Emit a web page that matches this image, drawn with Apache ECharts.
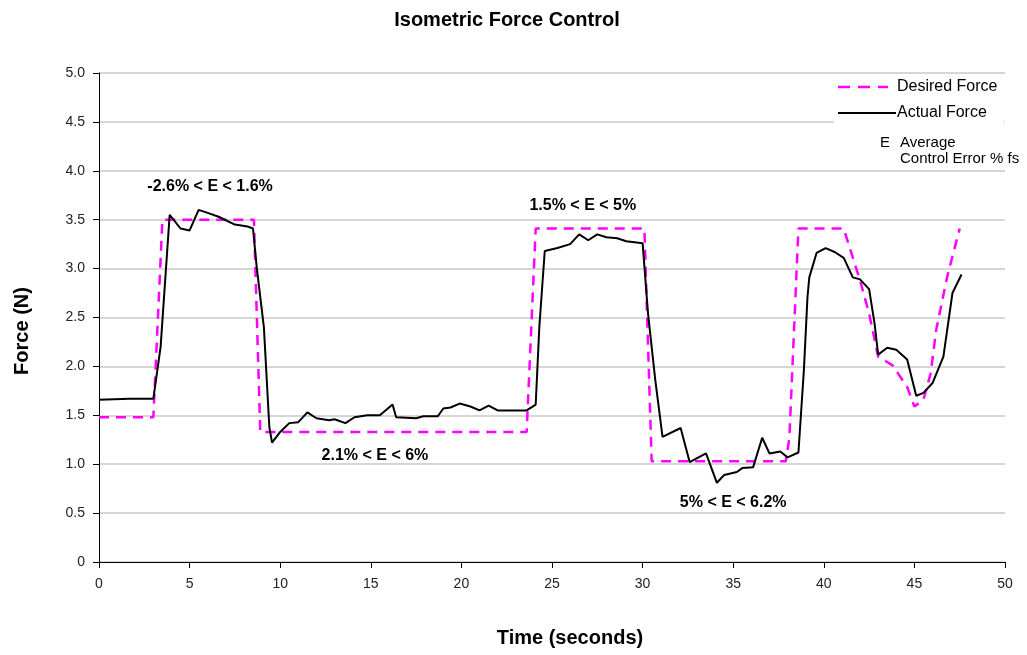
<!DOCTYPE html>
<html>
<head>
<meta charset="utf-8">
<script src="https://cdn.jsdelivr.net/npm/echarts@6/dist/echarts.min.js"></script>
<style>html,body{margin:0;padding:0;background:#fff}#c{width:1027px;height:655px}</style>
</head>
<body>
<div id="c"></div>
<script>
var chartTitle = 'Isometric Force Control';
var xAxisName = 'Time (seconds)';
var yAxisName = 'Force (N)';
var seriesNames = ['Desired Force', 'Actual Force'];

var desiredTime = [0, 3.0, 3.5, 8.55, 8.9, 23.6, 24.1, 30.1, 30.5, 37.6, 37.9, 38.1, 38.6, 41.1, 41.3, 42.0, 42.5, 43.0, 43.8, 44.6, 45.0, 45.5, 45.9, 46.2, 46.8, 47.5];
var desiredForce = [1.48, 1.48, 3.50, 3.50, 1.33, 1.33, 3.41, 3.41, 1.03, 1.03, 1.03, 1.27, 3.41, 3.41, 3.29, 2.88, 2.54, 2.10, 2.01, 1.79, 1.59, 1.66, 1.93, 2.37, 2.91, 3.41];

var actualTime = [0, 1.7, 3.0, 3.4, 3.9, 4.5, 5.0, 5.5, 6.0, 6.6, 7.5, 8.2, 8.5, 8.7, 9.1, 9.4, 9.55, 10.0, 10.5, 11.0, 11.5, 12.0, 12.7, 13.0, 13.6, 14.1, 14.8, 15.5, 16.2, 16.4, 17.5, 17.9, 18.7, 19.0, 19.4, 19.9, 20.5, 21.0, 21.5, 22.0, 23.6, 24.1, 24.3, 24.6, 25.3, 26.0, 26.5, 27.0, 27.5, 28.0, 28.6, 29.1, 30.0, 30.3, 30.7, 31.1, 32.1, 32.6, 33.5, 34.1, 34.5, 35.2, 35.5, 36.1, 36.6, 37.0, 37.6, 38.0, 38.6, 38.9, 39.1, 39.2, 39.6, 40.1, 40.6, 41.1, 41.6, 42.0, 42.5, 42.8, 43.0, 43.5, 44.0, 44.6, 45.1, 45.5, 46.0, 46.6, 47.1, 47.6];
var actualForce = [1.66, 1.67, 1.67, 2.20, 3.55, 3.41, 3.39, 3.60, 3.57, 3.53, 3.45, 3.43, 3.41, 3.02, 2.40, 1.38, 1.22, 1.33, 1.42, 1.43, 1.53, 1.47, 1.45, 1.46, 1.42, 1.48, 1.50, 1.50, 1.61, 1.48, 1.47, 1.49, 1.49, 1.57, 1.58, 1.62, 1.59, 1.55, 1.60, 1.55, 1.55, 1.61, 2.40, 3.18, 3.21, 3.25, 3.35, 3.29, 3.35, 3.32, 3.31, 3.28, 3.26, 2.54, 1.86, 1.28, 1.37, 1.02, 1.11, 0.81, 0.89, 0.92, 0.96, 0.97, 1.27, 1.11, 1.13, 1.07, 1.12, 1.96, 2.71, 2.91, 3.16, 3.21, 3.17, 3.11, 2.91, 2.89, 2.79, 2.44, 2.12, 2.19, 2.17, 2.07, 1.70, 1.73, 1.83, 2.10, 2.75, 2.94];

var annotationTexts = ['-2.6% < E < 1.6%', '2.1% < E < 6%', '1.5% < E < 5%', '5% < E < 6.2%'];
var annotationX = [6.13, 15.23, 26.7, 35.0];
var annotationY = [3.84, 1.09, 3.64, 0.61];

var legendNote = ['E', 'Average', 'Control Error % fs'];

function pairs(xs, ys) { return xs.map(function (x, i) { return [x, ys[i]]; }); }

var FONT = '"Liberation Sans", Arial, sans-serif';
var chart = echarts.init(document.getElementById('c'), null, { renderer: 'canvas' });

var option = {
  backgroundColor: '#ffffff',
  animation: false,
  title: {
    text: chartTitle, left: 502, top: 5, textAlign: 'center',
    textStyle: { fontFamily: FONT, fontSize: 20, fontWeight: 'bold', color: '#000' }
  },
  grid: { left: 99, right: 22, top: 73, bottom: 93, containLabel: false },
  xAxis: {
    type: 'value', min: 0, max: 50, interval: 5,
    axisLine: { onZero: false, lineStyle: { color: '#000', width: 1 } },
    axisTick: { show: true, length: 6, lineStyle: { color: '#000' } },
    axisLabel: { fontFamily: FONT, fontSize: 14, color: '#222', margin: 15 },
    splitLine: { show: false }
  },
  yAxis: {
    type: 'value', min: 0, max: 5, interval: 0.5,
    axisLine: { show: true, lineStyle: { color: '#000', width: 1 } },
    axisTick: { show: true, length: 6, lineStyle: { color: '#000' } },
    axisLabel: {
      fontFamily: FONT, fontSize: 14, color: '#222', margin: 14,
      formatter: function (v) { return v === 0 ? '0' : v.toFixed(1); }
    },
    splitLine: { show: true, lineStyle: { color: '#c8c8c8', width: 1.5 } }
  },
  series: [
    {
      name: seriesNames[0], type: 'line', data: pairs(desiredTime, desiredForce),
      showSymbol: false, symbol: 'none', z: 3,
      lineStyle: { color: '#ff00ff', width: 2.5, type: [10, 7] }
    },
    {
      name: seriesNames[1], type: 'line', data: pairs(actualTime, actualForce),
      showSymbol: false, symbol: 'none', z: 4,
      lineStyle: { color: '#000', width: 2 }
    },
    {
      name: 'annotations', type: 'scatter', z: 5, silent: true,
      symbolSize: 1, itemStyle: { color: 'rgba(0,0,0,0)' },
      data: annotationTexts.map(function (t, i) { return { value: [annotationX[i], annotationY[i]], name: t }; }),
      label: {
        show: true, position: 'inside', formatter: function (p) { return p.name; },
        fontFamily: FONT, fontSize: 16, fontWeight: 'bold', color: '#000', opacity: 1,
        textBorderWidth: 0
      },
      labelLayout: { hideOverlap: false }
    }
  ],
  graphic: [
    { type: 'text', x: 22, y: 331, rotation: Math.PI / 2,
      style: { text: yAxisName, font: 'bold 20px ' + FONT, fill: '#000', align: 'center', verticalAlign: 'middle' } },
    { type: 'text', x: 570, y: 638,
      style: { text: xAxisName, font: 'bold 20px ' + FONT, fill: '#000', align: 'center', verticalAlign: 'middle' } },
    { type: 'rect', shape: { x: 834, y: 76, width: 170, height: 50 }, style: { fill: '#fff' }, z: 10 },
    { type: 'line', shape: { x1: 838, y1: 87, x2: 888, y2: 87 }, style: { stroke: '#ff00ff', lineWidth: 2.5, lineDash: [12, 8] }, z: 11 },
    { type: 'text', x: 897, y: 87, style: { text: seriesNames[0], font: '16px ' + FONT, fill: '#000', verticalAlign: 'middle' }, z: 11 },
    { type: 'line', shape: { x1: 838, y1: 113, x2: 896, y2: 113 }, style: { stroke: '#000', lineWidth: 2 }, z: 11 },
    { type: 'text', x: 897, y: 113, style: { text: seriesNames[1], font: '16px ' + FONT, fill: '#000', verticalAlign: 'middle' }, z: 11 },
    { type: 'text', x: 880, y: 143, style: { text: legendNote[0], font: '15px ' + FONT, fill: '#000', verticalAlign: 'middle' }, z: 11 },
    { type: 'text', x: 900, y: 143, style: { text: legendNote[1], font: '15px ' + FONT, fill: '#000', verticalAlign: 'middle' }, z: 11 },
    { type: 'text', x: 900, y: 159, style: { text: legendNote[2], font: '15px ' + FONT, fill: '#000', verticalAlign: 'middle' }, z: 11 }
  ]
};
chart.setOption(option);
</script>
</body>
</html>
